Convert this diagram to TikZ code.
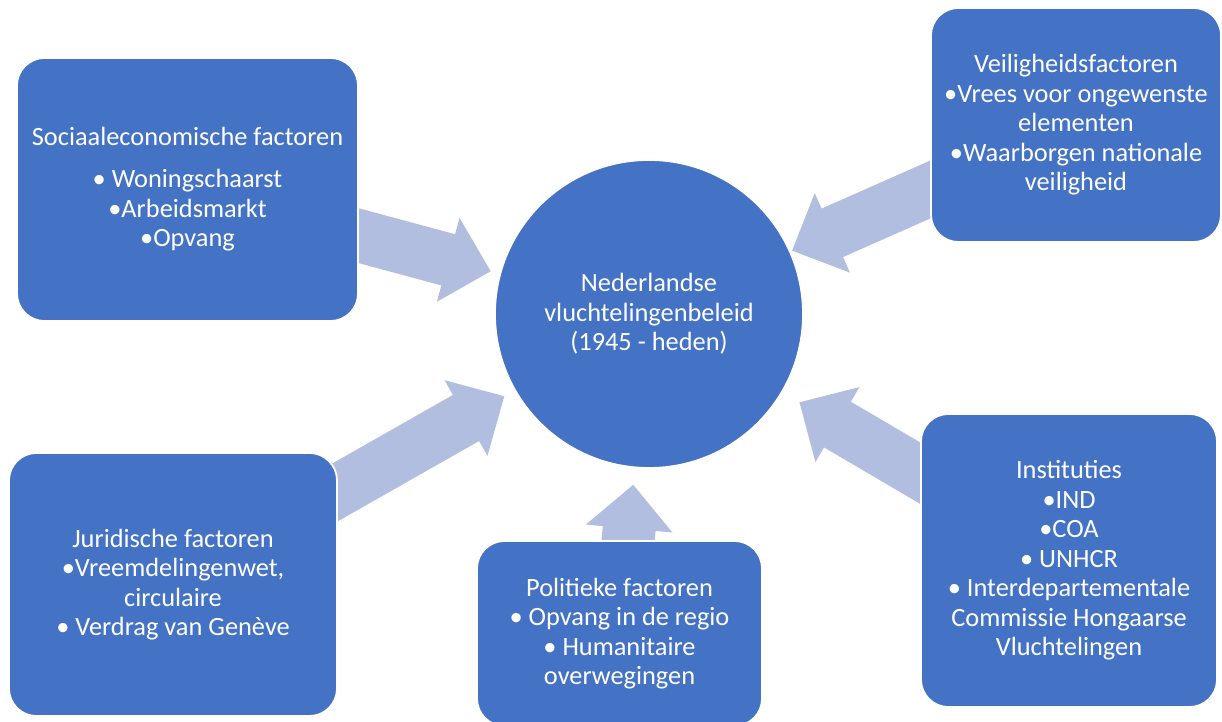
\documentclass[tikz,border=0pt]{standalone}
\usepackage{fontspec}
\setmainfont{Carlito}
\usepackage{tikz}
\usetikzlibrary{calc,backgrounds}
\definecolor{boxblue}{HTML}{4472C4}
\definecolor{arrowblue}{RGB}{177,190,224}
% block arrow from a factor box towards the centre, tip at distance #3 from the centre
\newcommand{\BigArrow}[3]{%
  \coordinate (tip) at ($(#2.center)!#3!(#1.center)$);
  \coordinate (neck) at ($(tip)!.88cm!(#1.center)$);
  \fill[arrowblue] ($(#1.center)!.53cm!90:(tip)$) -- ($(neck)!.53cm!90:(tip)$)
    -- ($(neck)!.87cm!90:(tip)$) -- (tip) -- ($(neck)!.87cm!-90:(tip)$)
    -- ($(neck)!.53cm!-90:(tip)$) -- ($(#1.center)!.53cm!-90:(tip)$) -- cycle;
}

\begin{document}
\begin{tikzpicture}[
    factor/.style={rectangle, rounded corners=.55cm, fill=boxblue, draw=white, line width=1pt,
      text=white, align=center, inner sep=0pt, font=\fontsize{15}{16.8}\selectfont},
    centre/.style={circle, fill=boxblue, draw=white, line width=1pt, text=white, align=center,
      minimum size=6.16cm, inner sep=0pt, font=\fontsize{15}{16.8}\selectfont}]

  \useasboundingbox (0,0) rectangle (24.44,14.44);

  \node[centre] (beleid) at (12.98,8.16) {Nederlandse\\vluchtelingenbeleid\\(1945 - heden)};

  \node[factor, minimum width=6.82cm, minimum height=5.26cm] (sociaal) at (3.75,10.65)
    {Sociaaleconomische factoren\\[7pt]• Woningschaarst\\•Arbeidsmarkt\\•Opvang};
  \node[factor, minimum width=5.8cm, minimum height=4.68cm] (veilig) at (21.52,11.94)
    {Veiligheidsfactoren\\•Vrees voor ongewenste\\elementen\\•Waarborgen nationale\\veiligheid};
  \node[factor, minimum width=6.56cm, minimum height=5.26cm] (juridisch) at (3.46,2.75)
    {Juridische factoren\\•Vreemdelingenwet,\\circulaire\\• Verdrag van Genève};
  \node[factor, minimum width=5.7cm, minimum height=3.7cm] (politiek) at (12.39,1.77)
    {Politieke factoren\\• Opvang in de regio\\• Humanitaire\\overwegingen};
  \node[factor, minimum width=5.92cm, minimum height=5.86cm] (instituut) at (21.38,3.23)
    {Instituties\\•IND\\•COA\\• UNHCR\\• Interdepartementale\\Commissie Hongaarse\\Vluchtelingen};

  \begin{scope}[on background layer]
    \BigArrow{sociaal}{beleid}{3.28cm}
    \BigArrow{veilig}{beleid}{3.13cm}
    \BigArrow{juridisch}{beleid}{3.33cm}
    \BigArrow{politiek}{beleid}{3.43cm}
    \BigArrow{instituut}{beleid}{3.49cm}
  \end{scope}
\end{tikzpicture}
\end{document}
